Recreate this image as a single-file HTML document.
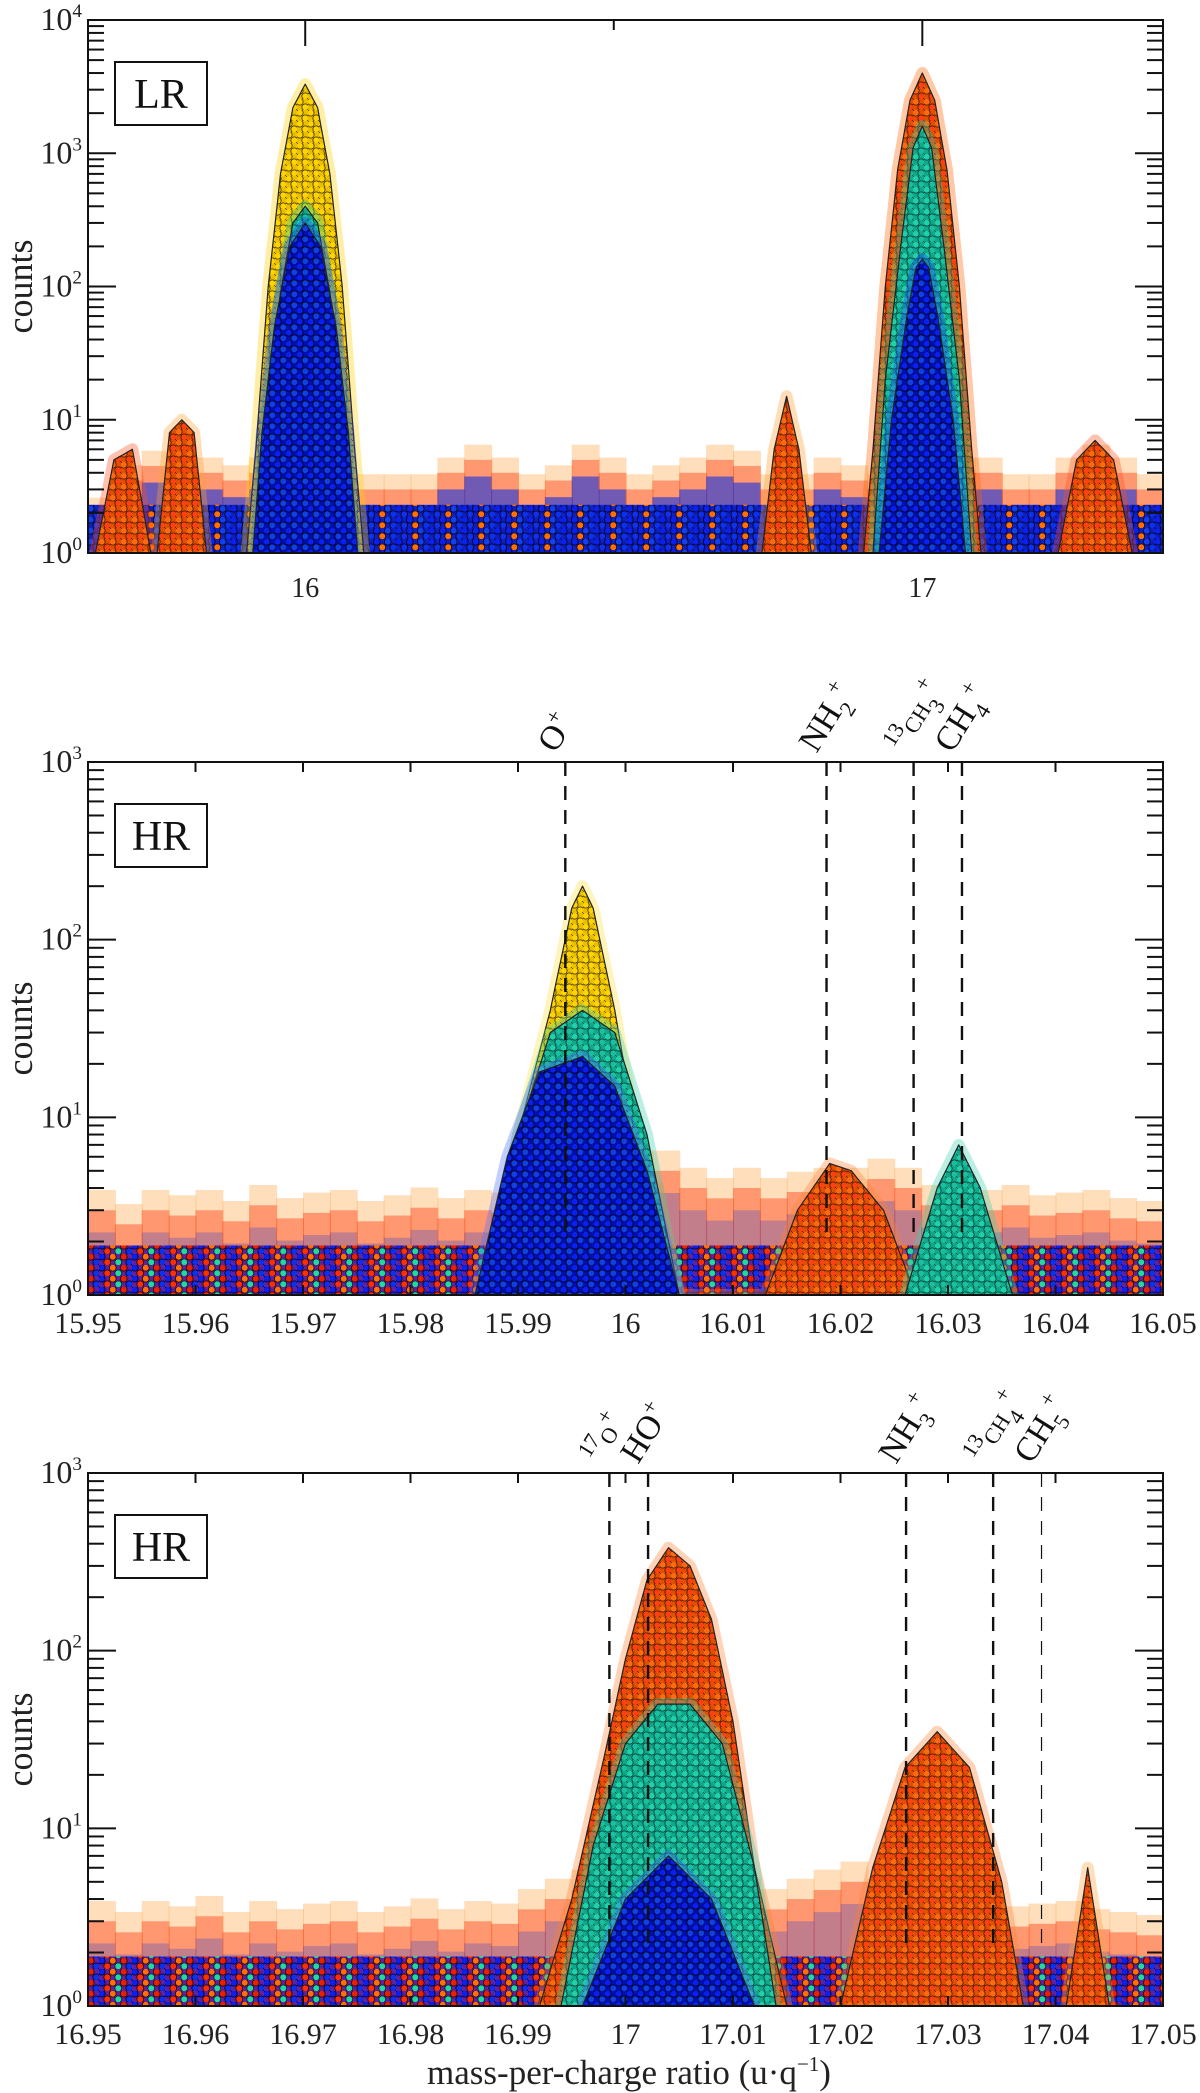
<!DOCTYPE html>
<html><head><meta charset="utf-8"><style>
html,body{margin:0;padding:0;background:#fff;}
svg{display:block;font-family:"Liberation Serif",serif;}
</style></head><body>
<svg id="chart" width="1200" height="2093" viewBox="0 0 1200 2093" xmlns="http://www.w3.org/2000/svg">
<defs>
<pattern id="pat-yellow" width="11" height="11" patternUnits="userSpaceOnUse"><rect width="11" height="11" fill="#e8c000"/><circle cx="2.75" cy="2.75" r="3.4" fill="#ffd400" stroke="#3a2c00" stroke-width="0.8"/><circle cx="8.25" cy="8.25" r="3.4" fill="#ffd400" stroke="#3a2c00" stroke-width="0.8"/></pattern>
<pattern id="pat-orange" width="11" height="11" patternUnits="userSpaceOnUse"><rect width="11" height="11" fill="#e05000"/><circle cx="2.75" cy="2.75" r="3.4" fill="#ff6a10" stroke="#3a1500" stroke-width="0.8"/><circle cx="8.25" cy="8.25" r="3.4" fill="#ff4010" stroke="#3a1500" stroke-width="0.8"/></pattern>
<pattern id="pat-teal" width="11" height="11" patternUnits="userSpaceOnUse"><rect width="11" height="11" fill="#10a888"/><circle cx="2.75" cy="2.75" r="3.4" fill="#20d0a8" stroke="#033" stroke-width="0.8"/><circle cx="8.25" cy="8.25" r="3.4" fill="#18c0a0" stroke="#033" stroke-width="0.8"/></pattern>
<pattern id="pat-blue" width="11" height="11" patternUnits="userSpaceOnUse"><rect width="11" height="11" fill="#0010b0"/><circle cx="2.75" cy="2.75" r="3.4" fill="#0a20f0" stroke="#001" stroke-width="0.8"/><circle cx="8.25" cy="8.25" r="3.4" fill="#1040e0" stroke="#001" stroke-width="0.8"/></pattern>
<pattern id="pat-mix" width="33" height="11" patternUnits="userSpaceOnUse"><rect width="33" height="11" fill="#1020c0"/><circle cx="2.75" cy="2.75" r="3.4" fill="#0a20f0" stroke="#001" stroke-width="0.8"/><circle cx="8.25" cy="8.25" r="3.4" fill="#1030f0" stroke="#001" stroke-width="0.8"/><circle cx="13.75" cy="2.75" r="3.4" fill="#0a20f0" stroke="#001" stroke-width="0.8"/><circle cx="19.25" cy="8.25" r="3.4" fill="#ff7000" stroke="#200" stroke-width="0.8"/><circle cx="24.75" cy="2.75" r="3.4" fill="#1040f0" stroke="#001" stroke-width="0.8"/><circle cx="30.25" cy="8.25" r="3.4" fill="#0a30f0" stroke="#001" stroke-width="0.8"/></pattern>
<pattern id="pat-mix2" width="33" height="11" patternUnits="userSpaceOnUse"><rect width="33" height="11" fill="#6020a0"/><circle cx="2.75" cy="2.75" r="3.4" fill="#0a20f0" stroke="#001" stroke-width="0.8"/><circle cx="8.25" cy="8.25" r="3.4" fill="#ff3000" stroke="#200" stroke-width="0.8"/><circle cx="13.75" cy="2.75" r="3.4" fill="#ff7000" stroke="#200" stroke-width="0.8"/><circle cx="19.25" cy="8.25" r="3.4" fill="#20d8a0" stroke="#022" stroke-width="0.8"/><circle cx="24.75" cy="2.75" r="3.4" fill="#e82000" stroke="#200" stroke-width="0.8"/><circle cx="30.25" cy="8.25" r="3.4" fill="#0a30f0" stroke="#001" stroke-width="0.8"/></pattern>
</defs>
</svg>
<script>
// ---------- data ----------
// Panel 1 (LR)
const lrYellowX=[15.905,15.92,15.94,15.96,15.98,16.0,16.02,16.04,16.06,16.08,16.095];
const lrYellowY=[1,6,100,700,2200,3300,2200,700,100,6,1];
const lrTeal16X=[15.92,15.94,15.96,15.98,16.0,16.02,16.04,16.06,16.08];
const lrTeal16Y=[1,15,90,300,400,300,90,15,1];
const lrBlue16X=[15.915,15.93,15.95,15.975,16.0,16.025,16.05,16.07,16.085];
const lrBlue16Y=[1,8,50,200,300,200,50,8,1];
const lrOrange17X=[16.905,16.92,16.94,16.96,16.98,17.0,17.02,17.04,17.06,17.08,17.095];
const lrOrange17Y=[1,6,100,750,2500,4000,2500,750,100,6,1];
const lrTeal17X=[16.92,16.94,16.965,16.985,17.0,17.015,17.035,17.06,17.08];
const lrTeal17Y=[1,20,200,1100,1600,1100,200,20,1];
const lrBlue17X=[16.93,16.95,16.975,16.99,17.0,17.01,17.025,17.05,17.07];
const lrBlue17Y=[1,10,60,140,160,140,60,10,1];
const lrBumpAX=[15.76,15.78,15.80,15.82,15.84];
const lrBumpAY=[1,8,10,8,1];
const lrBumpBX=[16.74,16.76,16.78,16.80,16.82];
const lrBumpBY=[1,6,15,6,1];
const lrBumpCX=[17.22,17.25,17.28,17.31,17.34];
const lrBumpCY=[1,5,7,5,1];
const lrBumpDX=[15.66,15.69,15.72,15.75];
const lrBumpDY=[1,5,6,1];
const lrNoise=[2,3.5,4.5,5,4,3.5,4,3,3,3,3,3,3,4,5,4,3,3.5,5,4,3,3.5,4,5,4.5,3,3,4,3.5,3,3,3,4,4,3,3,4,5,4,3];
// Panel 2 (HR, m/q 16)
const hr1YellowX=[15.987,15.990,15.993,15.995,15.996,15.997,15.999,16.001,16.004];
const hr1YellowY=[1,8,40,150,200,150,40,8,1];
const hr1TealX=[15.987,15.990,15.993,15.996,15.999,16.002,16.005];
const hr1TealY=[1,8,30,40,30,8,1];
const hr1BlueX=[15.986,15.989,15.992,15.996,15.999,16.002,16.005];
const hr1BlueY=[1,6,18,22,15,5,1];
const hr1OrangeX=[16.001,16.003,16.005,16.013,16.016,16.019,16.021,16.024,16.027];
const hr1OrangeY=[1,4,1,1,3,5.5,5,3,1];
const hr1Teal2X=[16.026,16.029,16.031,16.033,16.036];
const hr1Teal2Y=[1,4,7,4,1];
const hr1Noise=[3,2.5,3,2.8,3,2.6,3.2,2.7,2.9,3,2.6,2.8,3.1,2.7,3,2.9,3.2,3.5,4,4,5,5,4,3.5,4,3.5,3.8,4,4,4.5,4,3.2,3.4,3,3.2,2.8,2.9,3,2.7,2.6];
const hr1Lines=[15.9944,16.0187,16.0268,16.0313];
// Panel 3 (HR, m/q 17)
const hr2OrangeX=[16.992,16.995,16.998,17.0,17.002,17.004,17.006,17.008,17.010,17.012,17.015];
const hr2OrangeY=[1,4,25,90,250,380,300,150,40,6,1];
const hr2TealX=[16.994,16.997,17.0,17.003,17.006,17.009,17.012,17.014];
const hr2TealY=[1,8,30,50,50,30,6,1];
const hr2BlueX=[16.996,17.0,17.004,17.008,17.012];
const hr2BlueY=[1,4,7,4,1];
const hr2Orange2X=[17.020,17.023,17.026,17.029,17.032,17.035,17.037];
const hr2Orange2Y=[1,6,22,35,22,5,1];
const hr2Orange3X=[17.041,17.043,17.045];
const hr2Orange3Y=[1,6,1];
const hr2Noise=[3,2.6,3,2.8,3.2,2.6,3,2.7,2.9,3,2.6,2.8,3.1,2.7,3,2.9,3.5,4,4.5,5,6,6,5,4.5,4,3.5,4,4.5,5,4,3.2,3.4,3,3.2,2.8,2.9,3,2.7,2.6,2.5];
const hr2Lines=[16.9985,17.0021,17.0261,17.0342,17.0387];

// ---------- layout ----------
const svg=document.getElementById('chart');
const NS='http://www.w3.org/2000/svg';
const P=[
 {x0:88,x1:1163,y0:20,y1:553,xmin:15.648,xmax:17.39,dec:4},
 {x0:88,x1:1163,y0:762,y1:1295,xmin:15.95,xmax:16.05,dec:3},
 {x0:88,x1:1163,y0:1473,y1:2006,xmin:16.95,xmax:17.05,dec:3}];
function sx(p,v){return p.x0+(v-p.xmin)/(p.xmax-p.xmin)*(p.x1-p.x0);}
function sy(p,c){return p.y1-Math.log10(Math.max(c,1))/p.dec*(p.y1-p.y0);}
function el(tag,attrs,parent){const e=document.createElementNS(NS,tag);for(const k in attrs)e.setAttribute(k,attrs[k]);(parent||svg).appendChild(e);return e;}

P.forEach((p,i)=>{const cp=el('clipPath',{id:'clip'+i});el('rect',{x:p.x0,y:p.y0,width:p.x1-p.x0,height:p.y1-p.y0},cp);});

function envelope(p,xs,ys){
  let d='M'+sx(p,xs[0]).toFixed(1)+','+p.y1;
  for(let i=0;i<xs.length;i++){
    if(i>0){const a=Math.log10(ys[i-1]),b=Math.log10(ys[i]);for(let t=1;t<4;t++){const f=t/4;d+=' L'+sx(p,xs[i-1]+(xs[i]-xs[i-1])*f).toFixed(1)+','+sy(p,Math.pow(10,a+(b-a)*f)).toFixed(1);}}
    d+=' L'+sx(p,xs[i]).toFixed(1)+','+sy(p,ys[i]).toFixed(1);
  }
  d+=' L'+sx(p,xs[xs.length-1]).toFixed(1)+','+p.y1+' Z';return d;
}
function series(g,p,xs,ys,pat,halo,name){
  const d=envelope(p,xs,ys);
  const h=el('path',{d:d,fill:halo,'fill-opacity':0.35,stroke:halo,'stroke-opacity':0.35,'stroke-width':12,'stroke-linejoin':'round'},g);
  
  
  const s=el('path',{d:d,fill:'url(#'+pat+')',stroke:'#222','stroke-width':1.2,'stroke-linejoin':'round'},g);
  
  
}
function noise(g,p,vals,mixPat,baseLevel,blueAlpha){
  const w=(p.x1-p.x0)/vals.length;
  vals.forEach((v,k)=>{
    const x=p.x0+k*w;
    const a=el('rect',{x:x,y:sy(p,v*1.3),width:w+1,height:p.y1-sy(p,v*1.3),fill:'#ffa040','fill-opacity':0.35},g);
    
    
    const b=el('rect',{x:x,y:sy(p,v),width:w+1,height:p.y1-sy(p,v),fill:'#ff3000','fill-opacity':0.4},g);
    
    
    const c=el('rect',{x:x,y:sy(p,v*0.75),width:w+1,height:p.y1-sy(p,v*0.75),fill:'#1030e0','fill-opacity':blueAlpha},g);
    
    
  });
  const r=el('rect',{x:p.x0,y:sy(p,baseLevel),width:p.x1-p.x0,height:p.y1-sy(p,baseLevel),fill:'url(#'+mixPat+')'},g);
  
  
}
function sup(t,base,s){const a=el('tspan',{},t);a.textContent=base;const b=el('tspan',{dy:-13,'font-size':'0.6em'},t);b.textContent=s;}
function axes(p,i,xticks,xfmt,topMajor){
  const g=el('g',{});
  
  
  const r=el('rect',{x:p.x0,y:p.y0,width:p.x1-p.x0,height:p.y1-p.y0,fill:'none',stroke:'#111','stroke-width':2},g);
  
  
  for(let d=0;d<=p.dec;d++){
    const y=sy(p,Math.pow(10,d));
    el('line',{x1:p.x0,x2:p.x0+28,y1:y,y2:y,stroke:'#111','stroke-width':2},g);
    el('line',{x1:p.x1,x2:p.x1-28,y1:y,y2:y,stroke:'#111','stroke-width':2},g);
    const t=el('text',{x:p.x0-6,y:y+10,'text-anchor':'end','font-size':32,fill:'#222'},g);
    
    
    sup(t,'10',String(d));
    if(d<p.dec)for(let m=2;m<=9;m++){const ym=sy(p,m*Math.pow(10,d));
      el('line',{x1:p.x0,x2:p.x0+16,y1:ym,y2:ym,stroke:'#111','stroke-width':2},g);
      el('line',{x1:p.x1,x2:p.x1-16,y1:ym,y2:ym,stroke:'#111','stroke-width':2},g);}
  }
  xticks.forEach(v=>{
    const x=sx(p,v);
    el('line',{x1:x,x2:x,y1:p.y0,y2:p.y0+(topMajor?26:10),stroke:'#111','stroke-width':2},g);
    el('line',{x1:x,x2:x,y1:p.y1,y2:p.y1-(topMajor?0:10),stroke:'#111','stroke-width':2},g);
    const t=el('text',{x:x,y:p.y1+(topMajor?44:38),'text-anchor':'middle','font-size':topMajor?28:30,fill:'#222'},g);
    
    
    t.textContent=xfmt(v);
  });
  const yl=el('text',{x:0,y:0,'text-anchor':'middle','font-size':36,fill:'#222',transform:'translate(32,'+((p.y0+p.y1)/2)+') rotate(-90)'},g);
  
  
  yl.textContent='counts';
}
function badge(p,txt){
  const b=el('rect',{x:p.x0+27,y:p.y0+42,width:92,height:63,fill:'#fff',stroke:'#111','stroke-width':2});
  
  
  const t=el('text',{x:p.x0+73,y:p.y0+88,'text-anchor':'middle','font-size':42,fill:'#111'});
  
  
  t.textContent=txt;
}
function molLabel(p,x,parts,thin){
  const ln=el('line',{x1:x,x2:x,y1:p.y0,y2:sy(p,2),stroke:'#111','stroke-width':thin?1.2:2.4,'stroke-dasharray':'14,10'});
  
  
  const t=el('text',{x:0,y:0,'font-size':34,fill:'#111',transform:'translate('+(x-10)+','+(p.y0-8)+') rotate(-58)'});
  
  
  parts.forEach(pt=>{const s=el('tspan',pt[1]?{'font-size':'0.65em',dy:pt[1]}:{},t);s.textContent=pt[0];});
}

// ---------- panel 1 ----------
let p=P[0];
let g=el('g',{'clip-path':'url(#clip0)'});


noise(g,p,lrNoise,'pat-mix',2.3,0.6);
series(g,p,lrBumpAX,lrBumpAY,'pat-orange','#ffa030','lr-bump-15-8');
series(g,p,lrBumpBX,lrBumpBY,'pat-orange','#ffa030','lr-bump-16-78');
series(g,p,lrBumpCX,lrBumpCY,'pat-orange','#ff5020','lr-bump-17-28');
series(g,p,lrBumpDX,lrBumpDY,'pat-orange','#ff5020','lr-bump-15-7');
series(g,p,lrYellowX,lrYellowY,'pat-yellow','#ffd000','lr-yellow-16');
series(g,p,lrOrange17X,lrOrange17Y,'pat-orange','#ff6000','lr-orange-17');
series(g,p,lrTeal16X,lrTeal16Y,'pat-teal','#20c8a0','lr-teal-16');
series(g,p,lrTeal17X,lrTeal17Y,'pat-teal','#20c8a0','lr-teal-17');
series(g,p,lrBlue16X,lrBlue16Y,'pat-blue','#2040ff','lr-blue-16');
series(g,p,lrBlue17X,lrBlue17Y,'pat-blue','#2040ff','lr-blue-17');
axes(p,0,[16,17],v=>String(v),true);
el('line',{x1:sx(p,16.5),x2:sx(p,16.5),y1:p.y0,y2:p.y0+10,stroke:'#111','stroke-width':2});
badge(p,'LR');

// ---------- panel 2 ----------
p=P[1];
g=el('g',{'clip-path':'url(#clip1)'});


noise(g,p,hr1Noise,'pat-mix2',1.9,0.25);
series(g,p,hr1OrangeX,hr1OrangeY,'pat-orange','#ff8030','hr16-orange');
series(g,p,hr1YellowX,hr1YellowY,'pat-yellow','#ffe040','hr16-yellow');
series(g,p,hr1TealX,hr1TealY,'pat-teal','#40d0b0','hr16-teal');
series(g,p,hr1Teal2X,hr1Teal2Y,'pat-teal','#40d0b0','hr16-teal-ch4');
series(g,p,hr1BlueX,hr1BlueY,'pat-blue','#5070ff','hr16-blue');
const ticks2=[15.95,15.96,15.97,15.98,15.99,16,16.01,16.02,16.03,16.04,16.05];
axes(p,1,ticks2,v=>String(+v.toFixed(2)),false);
badge(p,'HR');
molLabel(p,sx(p,hr1Lines[0]),[['O'],['+',-14]]);
molLabel(p,sx(p,hr1Lines[1]),[['NH'],['2',10],['+',-24]]);
molLabel(p,sx(p,hr1Lines[2]),[['13',-12],['CH',12],['3',10],['+',-24]]);
molLabel(p,sx(p,hr1Lines[3]),[['CH'],['4',10],['+',-24]]);

// ---------- panel 3 ----------
p=P[2];
g=el('g',{'clip-path':'url(#clip2)'});


noise(g,p,hr2Noise,'pat-mix2',1.9,0.25);
series(g,p,hr2OrangeX,hr2OrangeY,'pat-orange','#ff8030','hr17-orange');
series(g,p,hr2Orange2X,hr2Orange2Y,'pat-orange','#ff8030','hr17-orange-nh3');
series(g,p,hr2Orange3X,hr2Orange3Y,'pat-orange','#ffa040','hr17-orange-small');
series(g,p,hr2TealX,hr2TealY,'pat-teal','#40d0b0','hr17-teal');
series(g,p,hr2BlueX,hr2BlueY,'pat-blue','#5070ff','hr17-blue');
const ticks3=[16.95,16.96,16.97,16.98,16.99,17,17.01,17.02,17.03,17.04,17.05];
axes(p,2,ticks3,v=>String(+v.toFixed(2)),false);
badge(p,'HR');
molLabel(p,sx(p,hr2Lines[0]),[['17',-12],['O',12],['+',-14]]);
molLabel(p,sx(p,hr2Lines[1]),[['HO'],['+',-14]]);
molLabel(p,sx(p,hr2Lines[2]),[['NH'],['3',10],['+',-24]]);
molLabel(p,sx(p,hr2Lines[3]),[['13',-12],['CH',12],['4',10],['+',-24]]);
molLabel(p,sx(p,hr2Lines[4]),[['CH'],['5',10],['+',-24]],true);
const xt=el('text',{x:629,y:2084,'text-anchor':'middle','font-size':35,fill:'#222'});


const a1=el('tspan',{},xt);a1.textContent='mass-per-charge ratio (u·q';
const a2=el('tspan',{dy:-13,'font-size':'0.6em'},xt);a2.textContent='−1';
const a3=el('tspan',{dy:13},xt);a3.textContent=')';
</script>
</body></html>
